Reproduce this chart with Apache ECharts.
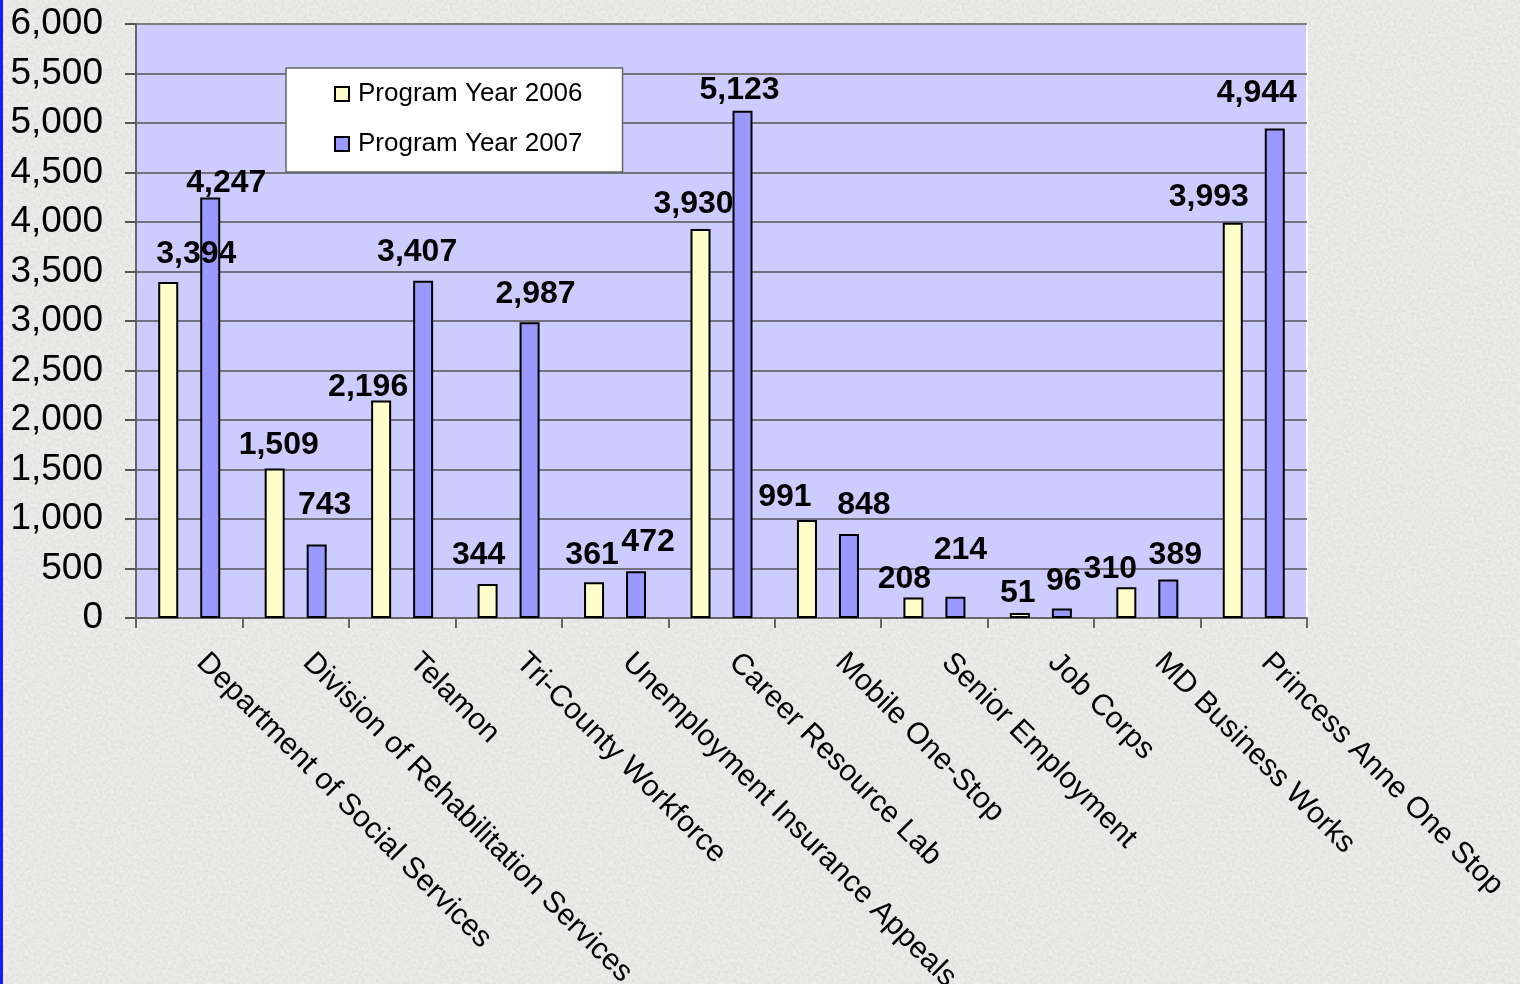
<!DOCTYPE html>
<html>
<head>
<meta charset="utf-8">
<script src="https://cdn.jsdelivr.net/npm/echarts@6/dist/echarts.min.js"></script>
<style>
html,body{margin:0;padding:0;width:1520px;height:984px;overflow:hidden;background-color:#e4e4e2;
background-image:url("data:image/svg+xml;utf8,<svg xmlns='http://www.w3.org/2000/svg' width='256' height='256'><filter id='n'><feTurbulence type='fractalNoise' baseFrequency='0.35' numOctaves='3' seed='7'/><feColorMatrix values='0.45 0 0 0 0.62  0.45 0 0 0 0.62  0.45 0 0 0 0.62  0 0 0 0 1'/></filter><rect width='256' height='256' fill='%23e4e4e2'/><rect width='256' height='256' filter='url(%23n)' opacity='0.45'/></svg>");}
#edge{position:absolute;left:0;top:0;width:3px;height:984px;background:#1a1aff;z-index:2;}
#chart{position:absolute;left:0;top:0;width:1520px;height:984px;}
</style>
</head>
<body>
<div id="edge"></div>
<div id="chart"></div>
<script>
const categories = [
  "Department of Social Services",
  "Division of Rehabilitation Services",
  "Telamon",
  "Tri-County Workforce",
  "Unemployment Insurance Appeals",
  "Career Resource Lab",
  "Mobile One-Stop",
  "Senior Employment",
  "Job Corps",
  "MD Business Works",
  "Princess Anne One Stop"
];
const seriesNames = ["Program Year 2006", "Program Year 2007"];
const py2006 = [3394, 1509, 2196, 344, 361, 3930, 991, 208, 51, 310, 3993];
const py2007 = [4247, 743, 3407, 2987, 472, 5123, 848, 214, 96, 389, 4944];
const yTicks = { min: 0, max: 6000, interval: 500 };

// Manual nudges of the value labels (as hand-placed in the original), in px
const labelNudge2006 = [[28,-12],[4,-7],[-13,3],[-9,-13],[-2,-11],[-7,-9],[-22,-7],[-9,-2],[-2,-4],[-16,-2],[-24,-10]];
const labelNudge2007 = [[16,2],[8,-23],[-6,-13],[6,-12],[12,-13],[-3,-5],[15,-13],[5,-31],[2,-11],[7,-8],[-18,-19]];

const FONT = "'Liberation Sans', Arial, sans-serif";
const fmt = v => Number(v).toLocaleString('en-US');

const chart = echarts.init(document.getElementById('chart'), null, {renderer: 'canvas'});

function barSeries(name, data, nudges, color) {
  return {
    name: name,
    type: 'bar',
    data: data.map((v, i) => ({ value: v, label: { offset: nudges[i] } })),
    barWidth: 20,
    barGap: '110%',
    itemStyle: { color: color, borderColor: '#000', borderWidth: 2 },
    label: {
      show: true,
      position: 'top',
      distance: 0,
      color: '#000',
      fontFamily: FONT,
      fontWeight: 'bold',
      fontSize: 32,
      formatter: p => fmt(p.value)
    }
  };
}

chart.setOption({
  backgroundColor: 'transparent',
  animation: false,
  textStyle: { fontFamily: FONT },
  grid: {
    left: 136, right: 213, top: 24, bottom: 366,
    outerBoundsMode: 'none',
    containLabel: false,
    show: true,
    backgroundColor: '#ccccff',
    borderColor: '#ffffff',
    borderWidth: 2
  },
  legend: {
    orient: 'vertical',
    left: 286,
    top: 68,
    backgroundColor: '#ffffff',
    borderColor: '#666',
    borderWidth: 1.5,
    padding: [13, 40, 15, 48],
    itemWidth: 14,
    itemHeight: 14,
    itemGap: 24,
    icon: 'rect',
    textStyle: { fontFamily: FONT, fontSize: 26, color: '#000', padding: [0, 0, 0, 4] },
    data: seriesNames
  },
  xAxis: {
    type: 'category',
    data: categories,
    axisLine: { show: true, lineStyle: { color: '#666', width: 2 } },
    axisTick: { show: true, length: 10, lineStyle: { color: '#666', width: 2 } },
    axisLabel: {
      rotate: -45,
      interval: 0,
      margin: 28,
      color: '#000',
      fontFamily: FONT,
      fontSize: 30,
      padding: [0, 0, 0, 17]
    },
    splitLine: { show: false }
  },
  yAxis: {
    type: 'value',
    min: yTicks.min,
    max: yTicks.max,
    interval: yTicks.interval,
    axisLine: { show: true, lineStyle: { color: '#666', width: 2 } },
    axisTick: { show: true, length: 11, lineStyle: { color: '#555', width: 2 } },
    axisLabel: {
      margin: 33,
      color: '#000',
      fontFamily: FONT,
      fontSize: 37,
      formatter: v => fmt(v)
    },
    splitLine: { show: true, lineStyle: { color: '#555', width: 1.5 } }
  },
  series: [
    barSeries(seriesNames[0], py2006, labelNudge2006, '#ffffcc'),
    barSeries(seriesNames[1], py2007, labelNudge2007, '#9999ff')
  ]
});
</script>
</body>
</html>
